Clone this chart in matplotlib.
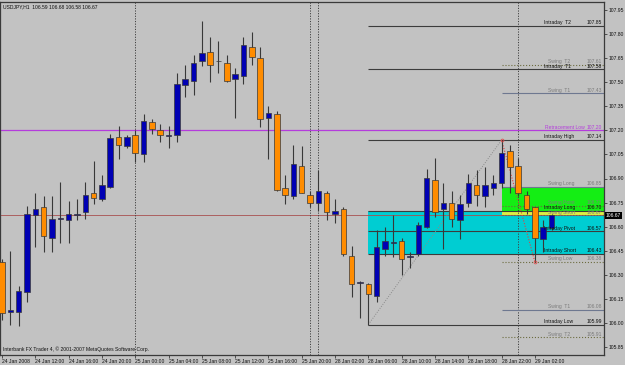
import matplotlib
matplotlib.use("Agg")
import matplotlib.pyplot as plt
import numpy as np

# =========================
# DATA (USDJPY H1)
# =========================

opens = [106.38, 106.07, 106.07, 106.19, 106.67, 106.72, 106.53, 106.65, 106.64, 106.67,
         106.69, 106.81, 106.77, 106.85, 107.16, 107.10, 107.17, 107.05, 107.25, 107.20,
         107.165, 107.17, 107.48, 107.51, 107.63, 107.69, 107.63, 107.62, 107.52, 107.54,
         107.72, 107.65, 107.28, 107.30, 106.84, 106.79, 106.98, 106.80, 106.75, 106.81,
         106.68, 106.71, 106.42, 106.25, 106.24, 106.17, 106.46, 106.50, 106.51, 106.41,
         106.43, 106.60, 106.89, 106.71, 106.75, 106.64, 106.75, 106.86, 106.79, 106.84,
         106.87, 107.07, 106.98, 106.80, 106.72, 106.52, 106.59]
highs = [106.40, 106.45, 106.23, 106.73, 106.81, 106.79, 106.79, 106.88, 106.76, 106.77,
         106.88, 107.01, 106.92, 107.18, 107.23, 107.17, 107.20, 107.30, 107.27, 107.24,
         107.23, 107.56, 107.61, 107.67, 107.88, 107.78, 107.76, 107.67, 107.59, 107.78,
         107.81, 107.72, 107.35, 107.32, 106.92, 107.11, 107.10, 106.82, 106.95, 106.82,
         106.77, 106.72, 106.48, 106.26, 106.25, 106.58, 106.60, 106.67, 106.53, 106.44,
         106.63, 106.96, 107.03, 106.87, 106.82, 106.80, 106.93, 106.95, 106.97, 106.92,
         107.14, 107.11, 107.03, 106.82, 106.72, 106.64, 106.68]
lows = [106.02, 105.99, 105.98, 106.13, 106.47, 106.44, 106.44, 106.50, 106.50, 106.64,
        106.65, 106.74, 106.76, 106.84, 107.02, 107.09, 107.00, 107.00, 107.18, 107.13,
        107.09, 107.13, 107.41, 107.42, 107.60, 107.50, 107.56, 107.50, 107.28, 107.49,
        107.61, 107.22, 107.02, 106.82, 106.74, 106.77, 106.81, 106.72, 106.70, 106.64,
        106.62, 106.42, 106.16, 106.03, 105.99, 106.13, 106.42, 106.41, 106.30, 106.34,
        106.42, 106.59, 106.66, 106.46, 106.60, 106.52, 106.72, 106.73, 106.72, 106.80,
        106.84, 106.81, 106.79, 106.68, 106.38, 106.44, 106.58]
closes = [106.06, 106.08, 106.20, 106.68, 106.71, 106.54, 106.65, 106.65, 106.68, 106.68,
          106.80, 106.78, 106.86, 107.15, 107.11, 107.16, 107.06, 107.26, 107.21, 107.17,
          107.165, 107.49, 107.52, 107.62, 107.68, 107.61, 107.635, 107.51, 107.55, 107.73,
          107.66, 107.27, 107.31, 106.83, 106.80, 106.99, 106.81, 106.75, 106.82, 106.69,
          106.70, 106.43, 106.24, 106.25, 106.18, 106.47, 106.51, 106.50, 106.40, 106.42,
          106.61, 106.90, 106.69, 106.75, 106.65, 106.74, 106.87, 106.80, 106.86, 106.87,
          107.06, 106.97, 106.81, 106.71, 106.53, 106.60, 106.67]

time_labels = ["24 Jan 2008", "24 Jan 12:00", "24 Jan 16:00", "24 Jan 20:00", "25 Jan 00:00",
               "25 Jan 04:00", "25 Jan 08:00", "25 Jan 12:00", "25 Jan 16:00", "25 Jan 20:00",
               "28 Jan 02:00", "28 Jan 06:00", "28 Jan 10:00", "28 Jan 14:00", "28 Jan 18:00",
               "28 Jan 22:00", "29 Jan 02:00"]
time_label_bars = [0, 4, 8, 12, 16, 20, 24, 28, 32, 36, 40, 44, 48, 52, 56, 60, 64]

price_ticks = [105.85, 106.00, 106.15, 106.30, 106.45, 106.60, 106.75, 106.90,
               107.05, 107.20, 107.35, 107.50, 107.65, 107.80, 107.95]

separator_bars = [16, 37, 38, 62]

# intraday levels (start at bar 44)
intraday_names = ["Intraday  T2", "Intraday  T1", "Intraday High", "Intraday Long",
                  "Intraday Pivot", "Intraday Short", "Intraday Low"]
intraday_levels = [107.85, 107.58, 107.14, 106.70, 106.57, 106.43, 105.99]
intraday_start = 44

# swing levels (start at bar 60)
swing_names = ["Swing  T2", "Swing  T1", "Swing Long", "Swing Point", "Swing Short",
               "Swing Low", "Swing  T1", "Swing  T2"]
swing_levels = [107.61, 107.43, 106.85, 106.73, 106.67, 106.38, 106.08, 105.91]
swing_styles = [":", "-", "-", ":", ":", ":", "-", ":"]
swing_start = 60

retracement_low = 107.20
current_price = 106.67

zz_bars = [44, 60, 64]
zz_prices = [105.99, 107.14, 106.38]

# =========================
# FIGURE
# =========================

BG = "#C2C2C2"
BULL = "#0000B4"
BEAR = "#FF8C00"
WICK = "#383838"
FS = 3.6

plt.rcParams["font.family"] = ["Liberation Sans", "DejaVu Sans"]

fig = plt.figure(figsize=(6.25, 3.65), dpi=100, facecolor=BG)
ax = fig.add_axes([0.0, 10 / 365, 604 / 625, 353 / 365], facecolor=BG)

x = np.arange(len(opens))
o = np.array(opens)
c = np.array(closes)
xr = 72.3
ax.set_xlim(-0.24, xr)
ax.set_ylim(105.80, 108.00)

# zones (background)
ax.fill_between([intraday_start, xr], intraday_levels[5], intraday_levels[3],
                color="#00CDD2", lw=0, zorder=1)
ax.fill_between([swing_start, xr], swing_levels[2], intraday_levels[3],
                color="#14EE14", lw=0, zorder=1)
ax.fill_between([swing_start, xr], swing_levels[4], intraday_levels[3],
                color="#DDEE44", lw=0, zorder=1.1)

# full-width lines
ax.axhline(retracement_low, color="#B43CDC", lw=0.9, zorder=2)
ax.axhline(current_price, color="#A85050", lw=0.6, zorder=2)

for b in separator_bars:
    ax.axvline(b, color="#404040", lw=0.7, ls=(0, (1.2, 1.5)), zorder=2)

# level lines + labels
for name, lv in zip(intraday_names, intraday_levels):
    ax.hlines(lv, intraday_start, xr, color="#3C3C3C", lw=0.8, zorder=2)
    ax.text(65.1, lv + 0.005, name, fontsize=FS, color="#101010", va="bottom", ha="left", zorder=6)
    ax.text(72.1, lv + 0.005, f"{lv:.2f}", fontsize=FS, color="#101010", va="bottom", ha="right", zorder=6)

for name, lv, st in zip(swing_names, swing_levels, swing_styles):
    col = "#6E7890" if st == "-" else "#6C6C40"
    ax.hlines(lv, swing_start, xr, color=col, lw=0.8, ls=st, zorder=2)
    ax.text(65.6, lv + 0.005, name, fontsize=FS, color="#7C7C7C", va="bottom", ha="left", zorder=6)
    ax.text(72.1, lv + 0.005, f"{lv:.2f}", fontsize=FS, color="#7C7C7C", va="bottom", ha="right", zorder=6)

ax.text(70.0, retracement_low + 0.005, "Retracement Low", fontsize=FS, color="#B43CDC",
        va="bottom", ha="right", zorder=6)
ax.text(72.1, retracement_low + 0.005, f"{retracement_low:.2f}", fontsize=FS, color="#B43CDC",
        va="bottom", ha="right", zorder=6)

# zigzag
ax.plot(zz_bars[:2], zz_prices[:2], color="#8A8A8A", lw=0.7, ls=(0, (1, 1.5)), zorder=3)
ax.plot(zz_bars[1:], zz_prices[1:], color="#E04040", lw=0.8, ls=(0, (1, 1.5)), zorder=3)
ax.plot(zz_bars[1:], zz_prices[1:], ls="none", marker="o", ms=2, mfc="none",
        mec="#E05050", mew=0.6, zorder=5)

# candles
ax.vlines(x, lows, highs, color=WICK, lw=0.8, zorder=3)
bottoms = np.minimum(o, c)
heights = np.maximum(np.abs(c - o), 0.004)
colors = [BULL if cc >= oo else BEAR for oo, cc in zip(opens, closes)]
ax.bar(x, heights, bottom=bottoms, width=0.66, color=colors, edgecolor=WICK,
       linewidth=0.5, zorder=4)

# axes styling
for s in ["left", "top", "right", "bottom"]:
    ax.spines[s].set_color("#3A3A3A")
    ax.spines[s].set_linewidth(0.9)

ax.yaxis.tick_right()
ax.set_yticks(price_ticks)
ax.set_yticklabels([f"{p:.2f}" for p in price_ticks], fontsize=FS, color="#101010")
ax.tick_params(axis="y", length=2.5, width=0.6, color="#3A3A3A", pad=1)

ax.set_xticks(time_label_bars)
ax.set_xticklabels(time_labels, fontsize=FS, color="#101010", ha="left")
ax.tick_params(axis="x", length=2.5, width=0.6, color="#3A3A3A", pad=0.5)

# texts
ax.text(0.005, 0.993, "USDJPY,H1  106.59 106.68 106.58 106.67", transform=ax.transAxes,
        fontsize=FS, color="#101010", va="top", ha="left")
ax.text(0.005, 0.008, "Interbank FX Trader 4, \u00a9 2001-2007 MetaQuotes Software Corp.",
        transform=ax.transAxes, fontsize=FS, color="#101010", va="bottom", ha="left")

ax.text(1.003, current_price, f"{current_price:.2f}", transform=ax.get_yaxis_transform(),
        fontsize=FS, color="white", va="center", ha="left", zorder=10,
        bbox=dict(boxstyle="square,pad=0.25", fc="black", ec="black", lw=0), clip_on=False)

fig.savefig("out.png", dpi=100, facecolor=BG)
